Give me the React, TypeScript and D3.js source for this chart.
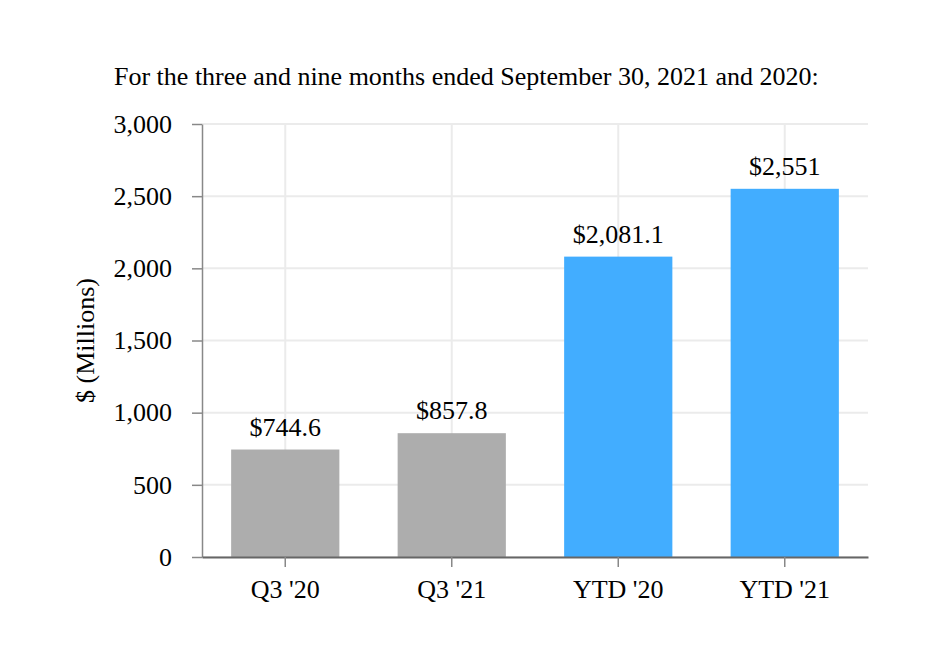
import { useEffect, useRef } from "react";
import * as d3 from "d3";

const categories = ["Q3 '20", "Q3 '21", "YTD '20", "YTD '21"];
const values = [744.6, 857.8, 2081.1, 2551];
const valueLabels = ["$744.6", "$857.8", "$2,081.1", "$2,551"];
const barColors = ["#adadad", "#adadad", "#42adff", "#42adff"];
const yTicks = [0, 500, 1000, 1500, 2000, 2500, 3000];

export default function App() {
  const width = 932;
  const height = 666;
  const marginTop = 124;
  const marginRight = 64;
  const marginBottom = 109;
  const marginLeft = 202;
  const font = "'Liberation Serif', 'Times New Roman', serif";

  const gx = useRef(null);
  const gy = useRef(null);

  const x = d3.scaleBand()
    .domain(categories)
    .range([marginLeft, width - marginRight])
    .paddingInner(0.35)
    .paddingOuter(0.175);

  const y = d3.scaleLinear()
    .domain([0, 3000])
    .range([height - marginBottom, marginTop]);

  useEffect(() => {
    const g = d3.select(gy.current);
    g.selectAll("*").remove();
    g.call(d3.axisLeft(y).tickValues(yTicks).tickFormat(d3.format(",")).tickSize(10).tickSizeOuter(0).tickPadding(20) as any)
      .call(g => g.select(".domain").attr("stroke", "#888").attr("stroke-width", 1.5))
      .call(g => g.selectAll(".tick line").attr("stroke", "#888").attr("stroke-width", 1.5))
      .call(g => g.selectAll(".tick text").attr("font-size", 26).attr("font-family", font).attr("fill", "#000"));
  }, [gy, y]);

  useEffect(() => {
    const g = d3.select(gx.current);
    g.selectAll("*").remove();
    g.call(d3.axisBottom(x).tickSize(10).tickSizeOuter(0).tickPadding(13) as any)
      .call(g => g.select(".domain").attr("stroke", "#666").attr("stroke-width", 2))
      .call(g => g.selectAll(".tick line").attr("stroke", "#888").attr("stroke-width", 1.5))
      .call(g => g.selectAll(".tick text").attr("font-size", 26).attr("font-family", font).attr("fill", "#000"));
  }, [gx, x]);

  return (
    <svg width={width} height={height} style={{ display: "block", margin: -8 }}>
      <rect width={width} height={height} fill="#fff" />
      <text x={114} y={85} fontSize={26} fontFamily={font} fill="#000">
        For the three and nine months ended September 30, 2021 and 2020:
      </text>
      <g>
        {yTicks.map(t => (
          <line key={t} x1={marginLeft} x2={width - marginRight} y1={y(t)} y2={y(t)} stroke="#ebebeb" strokeWidth={2} />
        ))}
        {categories.map(c => (
          <line key={c} x1={x(c)! + x.bandwidth() / 2} x2={x(c)! + x.bandwidth() / 2} y1={marginTop} y2={height - marginBottom} stroke="#ebebeb" strokeWidth={2} />
        ))}
      </g>
      <g>
        {categories.map((c, i) => (
          <rect key={c} x={x(c)} y={y(values[i])} width={x.bandwidth()} height={y(0) - y(values[i])} fill={barColors[i]} />
        ))}
      </g>
      <g>
        {categories.map((c, i) => (
          <text key={c} x={x(c)! + x.bandwidth() / 2} y={y(values[i]) - 14} textAnchor="middle" fontSize={26} fontFamily={font} fill="#000">
            {valueLabels[i]}
          </text>
        ))}
      </g>
      <g ref={gy} transform={`translate(${marginLeft},0)`} />
      <g ref={gx} transform={`translate(0,${height - marginBottom})`} />
      <text transform={`translate(94,${(marginTop + height - marginBottom) / 2}) rotate(-90)`} textAnchor="middle" fontSize={26} fontFamily={font} fill="#000">
        $ (Millions)
      </text>
    </svg>
  );
}
